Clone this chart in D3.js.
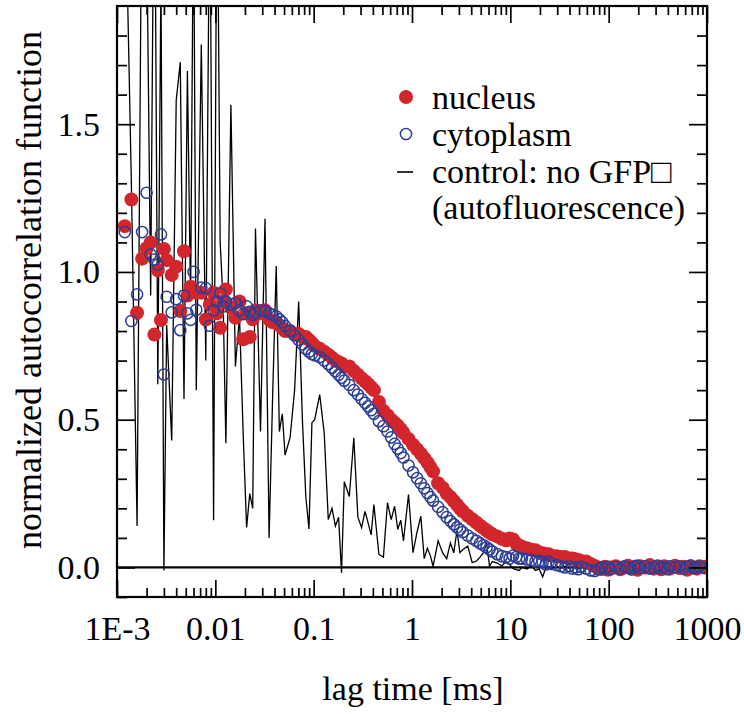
<!DOCTYPE html>
<html>
<head>
<meta charset="utf-8">
<script src="https://cdn.jsdelivr.net/npm/d3@7"></script>
<style>
  html, body { margin: 0; padding: 0; background: #fff; }
  svg { display: block; }
  text { font-family: "Liberation Serif", "Times New Roman", serif; fill: #000; }
</style>
</head>
<body>
<svg id="chart" width="744" height="714"></svg>
<script>
// ---------------- data ----------------
const lagTime = [
  0.0012,0.0014,0.0016,0.0018,0.002,0.0022,0.0024,0.0026,0.0028,0.003,0.0032,
  0.0036,0.004,0.0044,0.0048,0.0052,0.0056,0.006,0.0064,
  0.0072,0.008,0.0088,0.0096,0.0104,0.0112,0.012,0.0128,
  0.0144,0.016,0.0176,0.0192,0.0208,0.0224,0.024,0.0256,
  0.0288,0.032,0.0352,0.0384,0.0416,0.0448,0.048,0.0512,
  0.0576,0.064,0.0704,0.0768,0.0832,0.0896,0.096,0.1024,
  0.1152,0.128,0.1408,0.1536,0.1664,0.1792,0.192,0.2048,
  0.2304,0.256,0.2816,0.3072,0.3328,0.3584,0.384,0.4096,
  0.4608,0.512,0.5632,0.6144,0.6656,0.7168,0.768,0.8192,
  0.9216,1.024,1.126,1.229,1.331,1.434,1.536,1.638,
  1.843,2.048,2.253,2.458,2.662,2.867,3.072,3.277,
  3.686,4.096,4.506,4.915,5.325,5.734,6.144,6.554,
  7.373,8.192,9.011,9.830,10.65,11.47,12.29,13.11,
  14.75,16.38,18.02,19.66,21.30,22.94,24.58,26.21,
  29.49,32.77,36.04,39.32,42.60,45.88,49.15,52.43,
  58.98,65.54,72.09,78.64,85.20,91.75,98.30,104.9,
  118.0,131.1,144.2,157.3,170.4,183.5,196.6,209.7,
  235.9,262.1,288.4,314.6,340.8,367.0,393.2,419.4,
  471.9,524.3,576.7,629.1,681.6,734.0,786.4,838.9,
  943.7
];

const nucleus = [
  1.155,1.245,0.862,1.045,1.08,1.10,0.788,1.006,0.837,1.078,1.04,
  0.99,1.018,0.868,1.07,0.92,0.95,0.941,0.93,
  0.93,0.839,0.89,0.93,0.86,0.811,0.90,0.941,
  0.88,0.845,0.90,0.772,0.86,0.78,0.84,0.87,
  0.86,0.87,0.84,0.83,0.83,0.82,0.81,0.80,
  0.80,0.79,0.79,0.78,0.78,0.77,0.76,0.75,
  0.74,0.73,0.72,0.71,0.70,0.695,0.69,0.68,
  0.68,0.665,0.652,0.64,0.63,0.62,0.61,0.60,
  0.56,0.53,0.515,0.50,0.49,0.48,0.468,0.455,
  0.435,0.415,0.40,0.385,0.37,0.355,0.34,0.325,
  0.285,0.27,0.25,0.238,0.225,0.212,0.20,0.19,
  0.175,0.163,0.152,0.142,0.133,0.125,0.118,0.112,
  0.105,0.097,0.092,0.098,0.095,0.08,0.074,0.07,
  0.065,0.06,0.058,0.05,0.048,0.045,0.045,0.04,
  0.038,0.035,0.035,0.03,0.03,0.028,0.025,0.022,
  0.02,0.012,0.005,0.0,-0.005,0.002,-0.008,0.0,
  0.004,-0.006,0.0,0.006,-0.004,0.002,-0.008,0.004,
  0.0,0.008,-0.004,0.002,-0.006,0.004,0.0,-0.004,
  0.006,-0.002,0.002,-0.008,0.004,0.0,-0.004,0.004,
  0.002
];

const cytoplasm = [
  1.135,0.834,0.924,1.135,1.268,1.059,1.042,1.025,1.127,0.653,0.916,
  0.863,0.908,0.803,0.92,0.86,0.838,1.0,0.872,
  0.947,0.945,0.818,0.87,0.90,0.928,0.883,0.90,
  0.89,0.895,0.87,0.857,0.884,0.865,0.855,0.862,
  0.87,0.868,0.86,0.855,0.85,0.84,0.83,0.817,
  0.80,0.785,0.77,0.755,0.74,0.73,0.722,0.718,
  0.712,0.70,0.688,0.676,0.664,0.652,0.642,0.632,
  0.618,0.60,0.585,0.57,0.557,0.545,0.532,0.52,
  0.495,0.478,0.46,0.44,0.418,0.402,0.387,0.372,
  0.345,0.322,0.302,0.285,0.268,0.252,0.238,0.226,
  0.205,0.187,0.17,0.157,0.146,0.136,0.128,0.12,
  0.108,0.098,0.09,0.082,0.075,0.068,0.061,0.054,
  0.045,0.038,0.035,0.03,0.04,0.035,0.03,0.03,
  0.027,0.025,0.02,0.022,0.018,0.01,0.02,0.012,
  0.008,0.004,0.0,0.004,-0.004,0.0,-0.006,0.002,
  -0.004,-0.01,-0.012,-0.006,0.0,-0.004,0.002,-0.006,
  0.002,-0.004,0.004,0.0,-0.006,0.002,0.006,-0.002,
  0.004,-0.004,0.0,0.006,-0.002,0.002,-0.006,0.004,
  0.0,0.004,-0.004,0.002,0.006,-0.002,0.0,0.004,
  -0.002
];

const control = [
  2.4,1.3,0.14,2.5,2.2,0.92,2.6,0.62,2.0,-0.01,0.82,
  0.43,1.58,1.71,0.57,1.68,0.9,2.3,0.6,
  1.77,0.70,2.4,0.16,2.5,1.10,0.9,0.42,
  1.566,0.68,0.85,0.45,0.135,0.25,0.2,1.147,
  0.46,1.18,0.10,0.6,1.02,0.46,0.52,0.38,
  0.44,0.6,0.90,0.5,0.24,0.13,0.49,0.50,
  0.585,0.456,0.162,0.20,0.14,0.17,-0.018,0.29,
  0.24,0.439,0.17,0.135,0.19,0.15,0.11,0.213,
  0.044,0.035,0.219,0.162,0.207,0.129,0.16,0.09,
  0.247,0.05,0.12,0.174,0.03,0.065,0.04,0.004,
  0.09,0.05,0.03,0.083,0.05,0.125,0.05,0.06,
  0.072,0.016,0.021,0.035,0.05,0.083,0.004,0.02,
  0.015,0.005,0.02,0.01,-0.003,-0.007,-0.01,0.0,
  -0.005,0.005,-0.01,-0.005,-0.032,-0.002,0.003,-0.004,
  0.002,-0.003,0.004,-0.002,0.0,0.003,-0.004,0.001,
  -0.002,0.003,-0.001,0.002,-0.003,0.0,0.002,-0.002,
  0.001,-0.002,0.003,0.0,-0.002,0.002,-0.001,0.0,
  0.002,-0.001,0.0,0.003,-0.002,0.001,0.0,-0.001,
  0.001,0.0,-0.002,0.002,0.0,-0.001,0.001,0.0,
  0.0
];

const xTickValues = [0.001, 0.01, 0.1, 1, 10, 100, 1000];
const xTickLabels = ["1E-3", "0.01", "0.1", "1", "10", "100", "1000"];
const yTickValues = [0.0, 0.5, 1.0, 1.5];
const yTickLabels = ["0.0", "0.5", "1.0", "1.5"];
const legendLabels = ["nucleus", "cytoplasm", "control: no GFP\u25A1", "(autofluorescence)"];
const xTitle = "lag time [ms]";
const yTitle = "normalized autocorrelation function";

// ---------------- layout ----------------
const L = 117, R = 707, T = 6, B = 597;
const RED = "#d2262c", BLUE = "#2b3e95";
const FONT = 34;
const RR = 7.0, RB = 5.6;

const svg = d3.select("#chart");
const x = d3.scaleLog().domain([1e-3, 1e3]).range([L, R]);
const y = d3.scaleLinear().domain([-0.1, 1.9]).range([B, T]);

svg.append("defs").append("clipPath").attr("id", "plotclip")
  .append("rect").attr("x", L).attr("y", T).attr("width", R - L).attr("height", B - T);

// zero line
svg.append("line")
  .attr("x1", L).attr("x2", R).attr("y1", y(0)).attr("y2", y(0))
  .attr("stroke", "#000").attr("stroke-width", 2.2);

// data
const plot = svg.append("g").attr("clip-path", "url(#plotclip)");
const idx = d3.range(lagTime.length);

plot.append("path")
  .datum(idx)
  .attr("fill", "none").attr("stroke", "#000").attr("stroke-width", 1.3)
  .attr("stroke-linejoin", "miter")
  .attr("d", d3.line().x(i => x(lagTime[i])).y(i => y(control[i])));

plot.append("g").selectAll("circle").data(idx).join("circle")
  .attr("cx", i => x(lagTime[i])).attr("cy", i => y(nucleus[i]))
  .attr("r", RR).attr("fill", RED);

plot.append("g").selectAll("circle").data(idx).join("circle")
  .attr("cx", i => x(lagTime[i])).attr("cy", i => y(cytoplasm[i]))
  .attr("r", RB).attr("fill", "none").attr("stroke", BLUE).attr("stroke-width", 1.5);

// axes (inside ticks on all sides)
const xMinor = x.ticks().filter(v => !xTickValues.includes(v));
const yMinor = d3.range(-1, 19).map(k => k / 10).filter(v => !yTickValues.some(m => Math.abs(m - v) < 1e-9));

function styleAxis(g) {
  g.select(".domain").remove();
  g.selectAll(".tick line").attr("stroke", "#000").attr("stroke-width", 1.7);
  g.selectAll("text").style("font-family", "'Liberation Serif', serif").style("font-size", FONT + "px").attr("fill", "#000");
}

svg.append("g").attr("transform", `translate(0,${B})`)
  .call(d3.axisBottom(x).tickValues(xMinor).tickSize(-9).tickFormat(""))
  .call(styleAxis);
svg.append("g").attr("transform", `translate(0,${B})`)
  .call(d3.axisBottom(x).tickValues(xTickValues).tickSize(-17).tickPadding(19)
    .tickFormat((d, i) => xTickLabels[i]))
  .call(styleAxis);
svg.append("g").attr("transform", `translate(0,${T})`)
  .call(d3.axisTop(x).tickValues(xMinor).tickSize(-9).tickFormat(""))
  .call(styleAxis);
svg.append("g").attr("transform", `translate(0,${T})`)
  .call(d3.axisTop(x).tickValues(xTickValues).tickSize(-17).tickFormat(""))
  .call(styleAxis);

svg.append("g").attr("transform", `translate(${L},0)`)
  .call(d3.axisLeft(y).tickValues(yMinor).tickSize(-10).tickFormat(""))
  .call(styleAxis);
svg.append("g").attr("transform", `translate(${L},0)`)
  .call(d3.axisLeft(y).tickValues(yTickValues).tickSize(-18).tickPadding(17)
    .tickFormat((d, i) => yTickLabels[i]))
  .call(styleAxis);
svg.append("g").attr("transform", `translate(${R},0)`)
  .call(d3.axisRight(y).tickValues(yMinor).tickSize(-10).tickFormat(""))
  .call(styleAxis);
svg.append("g").attr("transform", `translate(${R},0)`)
  .call(d3.axisRight(y).tickValues(yTickValues).tickSize(-18).tickFormat(""))
  .call(styleAxis);

// frame
svg.append("rect").attr("x", L).attr("y", T).attr("width", R - L).attr("height", B - T)
  .attr("fill", "none").attr("stroke", "#000").attr("stroke-width", 2.2);

// titles
svg.append("text").attr("x", (L + R) / 2 + 1).attr("y", 700)
  .attr("text-anchor", "middle").style("font-size", FONT + "px").text(xTitle);
svg.append("text").attr("transform", `translate(41,${290}) rotate(-90)`)
  .attr("text-anchor", "middle").style("font-size", "36px").text(yTitle);

// legend
const lg = svg.append("g");
const lgY = [109, 146, 183, 219];
lg.append("circle").attr("cx", 406).attr("cy", 97).attr("r", RR).attr("fill", RED);
lg.append("circle").attr("cx", 406).attr("cy", 134).attr("r", RB)
  .attr("fill", "none").attr("stroke", BLUE).attr("stroke-width", 1.5);
lg.append("line").attr("x1", 397).attr("x2", 413).attr("y1", 172).attr("y2", 172)
  .attr("stroke", "#000").attr("stroke-width", 1.6);
lg.selectAll("text.lab").data(legendLabels).join("text").attr("class", "lab")
  .attr("x", 432).attr("y", (d, i) => lgY[i])
  .style("font-size", FONT + "px").text(d => d);
</script>
</body>
</html>
